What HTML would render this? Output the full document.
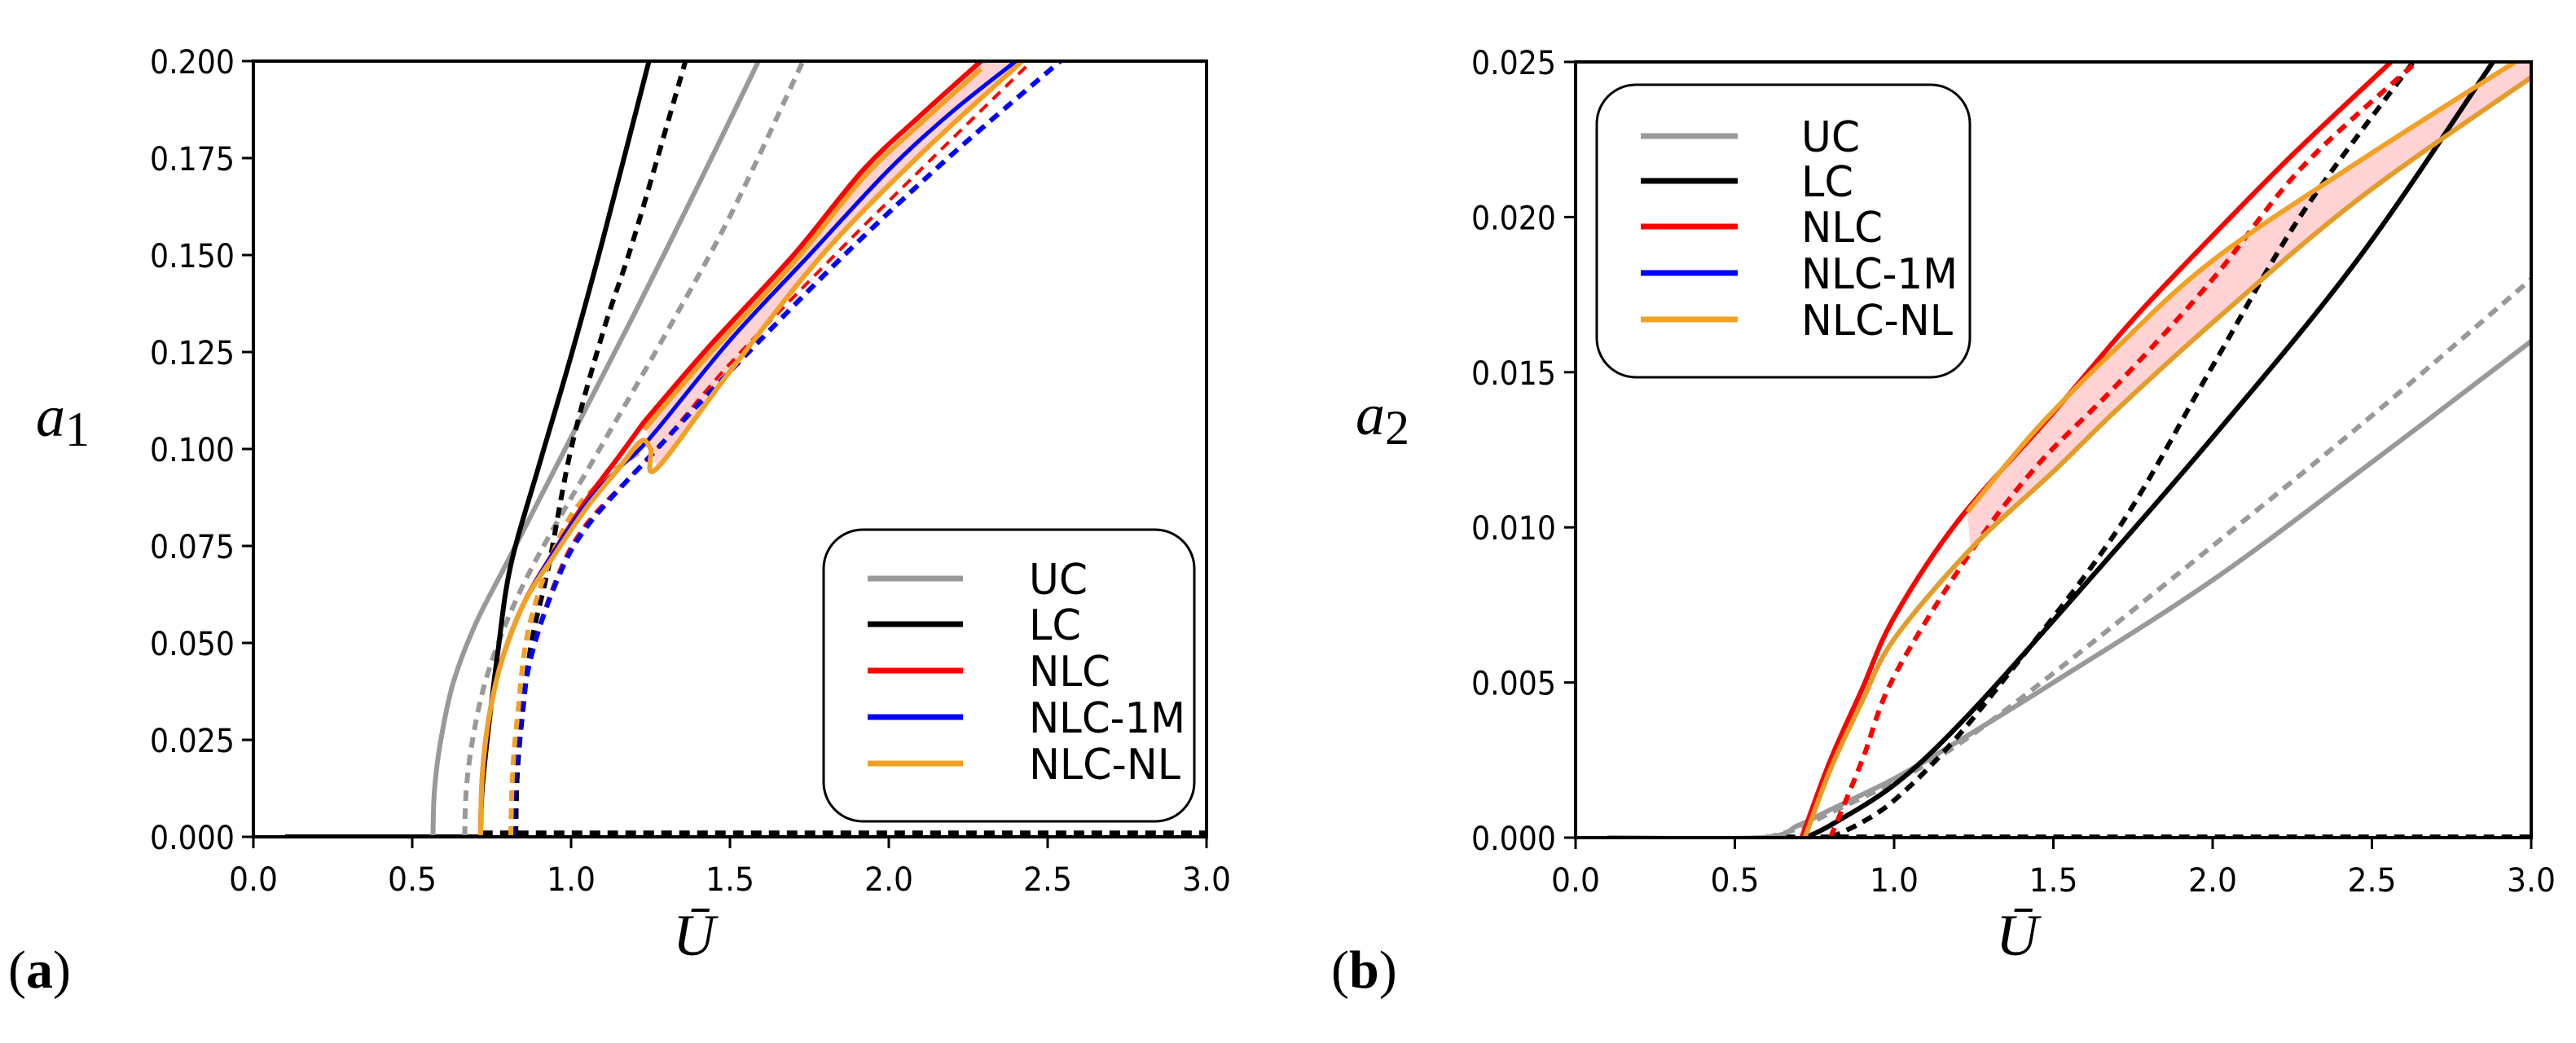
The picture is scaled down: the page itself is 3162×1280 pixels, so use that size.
<!DOCTYPE html>
<html><head><meta charset="utf-8"><style>
body{margin:0;background:#fff}
svg{display:block}
.tk{font-family:"DejaVu Sans Condensed","DejaVu Sans","Liberation Sans",sans-serif;font-size:40px;fill:#000}
.lg{font-family:"DejaVu Sans Condensed","DejaVu Sans","Liberation Sans",sans-serif;font-size:52px;fill:#000}
.sr{font-family:"Liberation Serif","DejaVu Serif",serif;fill:#000}
</style></head><body>
<svg id="chart" width="3162" height="1280" viewBox="0 0 3162 1280" xmlns="http://www.w3.org/2000/svg">
<g id="pa"></g>
<g id="pb"></g>
<text class="sr" x="10" y="1212" font-size="66">(<tspan font-weight="bold">a</tspan>)</text>
<text class="sr" x="1634" y="1212" font-size="66">(<tspan font-weight="bold">b</tspan>)</text>
<text class="sr" x="44" y="535" font-size="72" font-style="italic">a<tspan font-style="normal" font-size="60" dy="12">1</tspan></text>
<text class="sr" x="1664" y="533" font-size="72" font-style="italic">a<tspan font-style="normal" font-size="60" dy="12">2</tspan></text>
<text class="sr" x="826" y="1172" font-size="72" font-style="italic">Ū</text>
<text class="sr" x="2450" y="1172" font-size="72" font-style="italic">Ū</text>
</svg>
<script>
const xTicks=[0,0.5,1.0,1.5,2.0,2.5,3.0];
const xTickLabels=["0.0","0.5","1.0","1.5","2.0","2.5","3.0"];
const aTicks=[0,0.025,0.05,0.075,0.1,0.125,0.15,0.175,0.2];
const aTickLabels=["0.000","0.025","0.050","0.075","0.100","0.125","0.150","0.175","0.200"];
const bTicks=[0,0.005,0.01,0.015,0.02,0.025];
const bTickLabels=["0.000","0.005","0.010","0.015","0.020","0.025"];
const legendLabels=["UC","LC","NLC","NLC-1M","NLC-NL"];

const aUCsU=[0.565,0.57,0.59,0.63,0.7,0.8,1.0,1.2,1.4,1.59];
const aUCsY=[0,0.012,0.025,0.04,0.055,0.071,0.103,0.135,0.168,0.2];
const aUCdU=[0.665,0.67,0.69,0.73,0.8,0.9,1.09,1.3,1.5,1.73];
const aUCdY=[0,0.012,0.025,0.04,0.056,0.073,0.1,0.13,0.16,0.2];
const aLCsU=[0.715,0.72,0.74,0.77,0.81,0.9,1.0,1.1,1.245];
const aLCsY=[0,0.012,0.028,0.048,0.07,0.096,0.124,0.154,0.2];
const aLCdU=[0.826,0.83,0.845,0.875,0.93,1.0,1.1,1.2,1.36];
const aLCdY=[0,0.015,0.03,0.05,0.07,0.1,0.13,0.155,0.2];
const aNLCsU=[0.715,0.72,0.74,0.78,0.85,0.95,1.05,1.15,1.23];
const aNLCsY=[0,0.015,0.03,0.045,0.06,0.074,0.087,0.098,0.107];
const aUpU=[1.23,1.43,1.7,1.92,2.1,2.29];
const aUpY=[0.107,0.126,0.15,0.172,0.186,0.2];
const a1MU=[0.715,0.72,0.74,0.78,0.85,0.95,1.05,1.15,1.25,1.5,1.75,2.0,2.2,2.4];
const a1MY=[0,0.015,0.03,0.045,0.06,0.074,0.086,0.095,0.103,0.128,0.15,0.172,0.187,0.2];
const aNLlowU=[0.715,0.72,0.74,0.78,0.85,0.95,1.05,1.15,1.22,1.25,1.27,1.5,1.79,2.1,2.42];
const aNLlowY=[0,0.015,0.03,0.045,0.06,0.073,0.085,0.095,0.102,0.1,0.095,0.12,0.15,0.176,0.2];
const a1MdU=[0.815,0.82,0.835,0.87,0.95,1.05,1.27,1.5,1.86,2.2,2.54];
const a1MdY=[0,0.012,0.025,0.045,0.065,0.08,0.1,0.12,0.15,0.176,0.2];
const aNLCdU=[0.815,0.82,0.835,0.87,0.95,1.05,1.27,1.5,1.83,2.1,2.45];
const aNLCdY=[0,0.012,0.025,0.045,0.066,0.081,0.1,0.122,0.15,0.172,0.2];
const aNLdU=[0.81,0.815,0.83,0.87,0.98,1.1,1.23];
const aNLdY=[0,0.015,0.03,0.055,0.08,0.092,0.1];

const bUCsU=[0.1,0.58,0.7,0.8,1.0,1.2,1.5,2.0,2.5,3.0];
const bUCsY=[0,0,0.0004,0.0009,0.0019,0.0031,0.005,0.0083,0.0121,0.016];
const bUCdU=[0.6,0.7,0.8,1.0,1.2,1.5,2.0,2.5,3.0];
const bUCdY=[0,0.0003,0.0008,0.0018,0.003,0.0053,0.0094,0.0136,0.018];
const bLCsU=[0.72,0.8,1.0,1.2,1.5,2.0,2.46,2.88];
const bLCsY=[0,0.0004,0.0017,0.0036,0.007,0.0129,0.0187,0.025];
const bLCdU=[0.8,0.9,1.0,1.15,1.33,1.7,2.0,2.28,2.63];
const bLCdY=[0,0.0005,0.0012,0.0027,0.0049,0.0099,0.0152,0.0201,0.025];
const bNLCsU=[0.71,0.8,0.9,1.0,1.2,1.5,1.75,2.0,2.25,2.56];
const bNLCsY=[0,0.0025,0.0048,0.0071,0.0102,0.0137,0.0167,0.0194,0.022,0.025];
const bNLCdU=[0.8,0.9,1.0,1.24,1.45,1.7,2.0,2.28,2.64];
const bNLCdY=[0,0.0025,0.0052,0.0092,0.012,0.0146,0.018,0.0216,0.025];
const bUpU=[1.23,1.45,1.7,2.0,2.46,2.95];
const bUpY=[0.0105,0.0132,0.0158,0.0186,0.0218,0.025];
const bLowU=[0.72,0.8,0.9,1.0,1.24,1.5,1.7,2.0,2.46,3.0];
const bLowY=[0,0.0022,0.0044,0.0064,0.0093,0.0118,0.0138,0.0166,0.0206,0.0245];

const NS="http://www.w3.org/2000/svg";
const GRAY="#999999",ORG="#f2a125",RED="#ff0000",BLUE="#0000ff";
function mk(parent,tag,attrs){const e=document.createElementNS(NS,tag);for(const k in attrs)e.setAttribute(k,attrs[k]);parent.appendChild(e);return e;}
function makeAxes(x0,x1,y0,y1,ymax){return {x:u=>x0+(u/3)*(x1-x0),y:v=>y1-(v/ymax)*(y1-y0)};}
function pxs(ax,U,Y){return U.map((u,i)=>[ax.x(u),ax.y(Y[i])]);}
function smooth(P,start){
  let d=start?("M"+P[0][0].toFixed(1)+","+P[0][1].toFixed(1)):"";
  for(let i=0;i<P.length-1;i++){
    const p0=P[i-1]||P[i],p1=P[i],p2=P[i+1],p3=P[i+2]||P[i+1];
    const c1=[p1[0]+(p2[0]-p0[0])/6,p1[1]+(p2[1]-p0[1])/6];
    const c2=[p2[0]-(p3[0]-p1[0])/6,p2[1]-(p3[1]-p1[1])/6];
    d+=" C"+c1.map(v=>v.toFixed(1))+" "+c2.map(v=>v.toFixed(1))+" "+p2[0].toFixed(1)+","+p2[1].toFixed(1);
  }
  return d;
}
function line(g,ax,U,Y,color,dash,name,w){
  const p=mk(g,"path",{d:smooth(pxs(ax,U,Y),true),fill:"none",stroke:color,"stroke-width":w||6,"stroke-linejoin":"round"});
  if(dash)p.setAttribute("stroke-dasharray","13 9");
  
  
}
function band(g,ax,U1,Y1,U2,Y2,name){
  const A=pxs(ax,U1,Y1),B=pxs(ax,U2,Y2).reverse();
  const d=smooth(A,true)+" L"+B[0][0].toFixed(1)+","+B[0][1].toFixed(1)+smooth(B,false)+" Z";
  const p=mk(g,"path",{d:d,fill:"#ffc8c8","fill-opacity":"0.8",stroke:"none"});
  
  
}
function frame(g,ax,x0,x1,y0,y1,yt,ytl,lblRight,pfx){
  xTicks.forEach((t,i)=>{
    const tk=mk(g,"line",{x1:ax.x(t),x2:ax.x(t),y1:y1,y2:y1+14,stroke:"#000","stroke-width":3});
    
    
    const tx=mk(g,"text",{x:ax.x(t),y:y1+66,"text-anchor":"middle",class:"tk",textLength:60,lengthAdjust:"spacingAndGlyphs"});tx.textContent=xTickLabels[i];
    
    
  });
  yt.forEach((t,i)=>{
    const tk=mk(g,"line",{x1:x0-14,x2:x0,y1:ax.y(t),y2:ax.y(t),stroke:"#000","stroke-width":3});
    
    
    const tx=mk(g,"text",{x:lblRight,y:ax.y(t)+15,"text-anchor":"end",class:"tk",textLength:104,lengthAdjust:"spacingAndGlyphs"});tx.textContent=ytl[i];
    
    
  });
  const r=mk(g,"rect",{x:x0,y:y0,width:x1-x0,height:y1-y0,fill:"none",stroke:"#000","stroke-width":4});
  
  
}
function legend(g,bx,by,bw,bh,lx1,lx2,tx,rows,pfx){
  const r=mk(g,"rect",{x:bx,y:by,width:bw,height:bh,rx:48,fill:"#fff",stroke:"#000","stroke-width":3});
  
  
  const cols=[GRAY,"#000",RED,BLUE,ORG];
  const tl=[72,64,100,192,186];
  legendLabels.forEach((l,i)=>{
    const ln=mk(g,"line",{x1:lx1,x2:lx2,y1:rows[i],y2:rows[i],stroke:cols[i],"stroke-width":7});
    
    
    const t=mk(g,"text",{x:tx,y:rows[i]+19,class:"lg",textLength:tl[i],lengthAdjust:"spacingAndGlyphs"});t.textContent=l;
    
    
  });
}
(function(){
  const g=document.getElementById("pa");
  const x0=311,x1=1481,y0=75,y1=1027;
  const ax=makeAxes(x0,x1,y0,y1,0.2);
  const cp=mk(g,"clipPath",{id:"ca"});mk(cp,"rect",{x:x0,y:y0,width:x1-x0,height:y1-y0});
  const d=mk(g,"g",{"clip-path":"url(#ca)"});
  band(d,ax,aUpU,aUpY,aNLlowU.slice(10),aNLlowY.slice(10),"a-nlc-nl-band");
  line(d,ax,[0.1,0.72],[0,0],"#000",false,"a-zero-line-solid");
  line(d,ax,[0.72,3.0],[0.001,0.001],"#000",true,"a-zero-line-dashed");
  line(d,ax,aUCsU,aUCsY,GRAY,false,"a-uc-solid");
  line(d,ax,aUCdU,aUCdY,GRAY,true,"a-uc-dashed");
  line(d,ax,aLCsU,aLCsY,"#000",false,"a-lc-solid");
  line(d,ax,aLCdU,aLCdY,"#000",true,"a-lc-dashed");
  line(d,ax,aNLCdU,aNLCdY,RED,true,"a-nlc-dashed",4);
  line(d,ax,a1MdU,a1MdY,BLUE,true,"a-nlc1m-dashed");
  line(d,ax,aNLdU,aNLdY,ORG,true,"a-nlcnl-dashed");
  line(d,ax,aNLCsU,aNLCsY,RED,false,"a-nlc-solid");
  line(d,ax,aUpU,aUpY,RED,false,"a-nlc-upper");
  line(d,ax,a1MU,a1MY,BLUE,false,"a-nlc1m-solid",5);
  line(d,ax,aUpU,aUpY.map(v=>v-0.002),ORG,false,"a-nlcnl-upper");
  line(d,ax,aNLlowU,aNLlowY,ORG,false,"a-nlcnl-lower");
  frame(g,ax,x0,x1,y0,y1,aTicks,aTickLabels,288,"a-");
  legend(g,1011,650,455,358,1065,1182,1263,[710,766,823,880,937],"a-");
})();
(function(){
  const g=document.getElementById("pb");
  const x0=1934,x1=3107,y0=76,y1=1028;
  const ax=makeAxes(x0,x1,y0,y1,0.025);
  const cp=mk(g,"clipPath",{id:"cb"});mk(cp,"rect",{x:x0,y:y0,width:x1-x0,height:y1-y0});
  const d=mk(g,"g",{"clip-path":"url(#cb)"});
  band(d,ax,bUpU.concat([3.0]),bUpY.concat([0.0255]),bLowU.slice(4),bLowY.slice(4),"b-nlc-nl-band");
  line(d,ax,[0.1,0.6],[0,0],"#000",false,"b-zero-line-solid",4);
  line(d,ax,[0.6,3.0],[0.00005,0.00005],"#000",true,"b-zero-line-dashed",4);
  line(d,ax,bUCsU,bUCsY,GRAY,false,"b-uc-solid");
  line(d,ax,bUCdU,bUCdY,GRAY,true,"b-uc-dashed");
  line(d,ax,bLCsU,bLCsY,"#000",false,"b-lc-solid");
  line(d,ax,bLCdU,bLCdY,"#000",true,"b-lc-dashed");
  line(d,ax,bNLCdU,bNLCdY,RED,true,"b-nlc-dashed");
  line(d,ax,bNLCsU,bNLCsY,RED,false,"b-nlc-solid");
  line(d,ax,bUpU,bUpY,ORG,false,"b-nlcnl-upper");
  line(d,ax,bLowU,bLowY,"#e29d2a",false,"b-nlcnl-lower");
  frame(g,ax,x0,x1,y0,y1,bTicks,bTickLabels,1910,"b-");
  legend(g,1960,104,458,359,2014,2133,2211,[167,222,278,335,392],"b-");
})();
</script>
</body></html>
